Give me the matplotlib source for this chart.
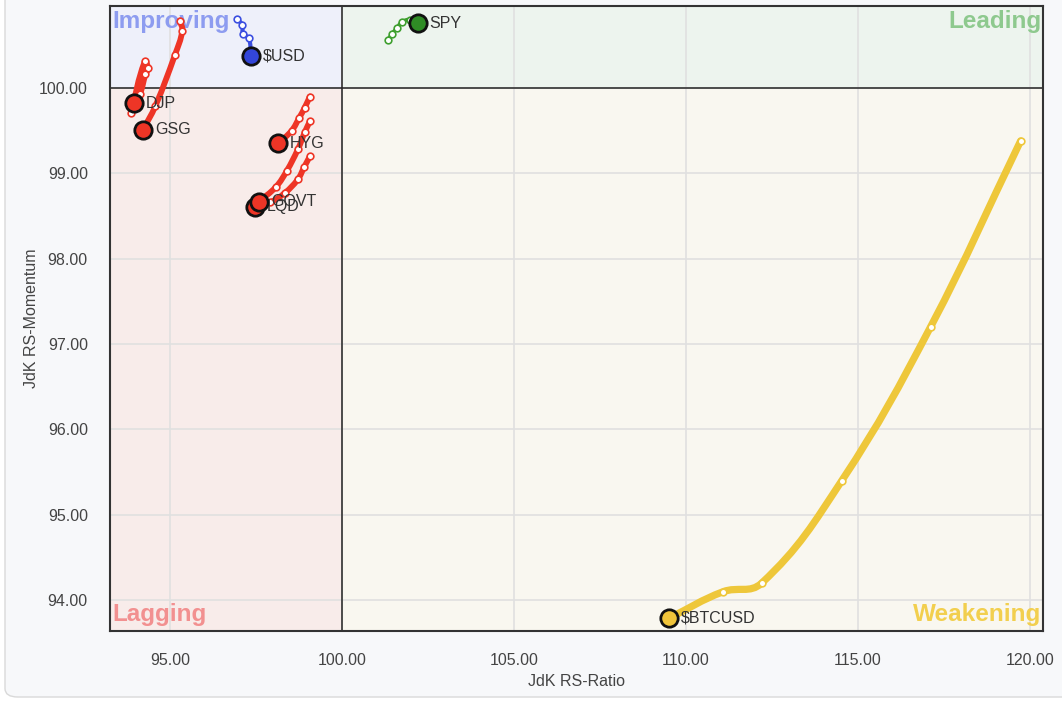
import numpy as np
import matplotlib.pyplot as plt
from matplotlib.path import Path
from matplotlib.patches import PathPatch, Rectangle, FancyBboxPatch

plt.rcParams['font.family'] = ['Liberation Sans', 'DejaVu Sans']

# RRG trails, oldest -> latest (last point = head)
usd_x = [96.94, 97.10, 97.13, 97.30, 97.35]
usd_y = [100.81, 100.74, 100.63, 100.58, 100.37]

spy_x = [101.34, 101.45, 101.60, 101.74, 101.98, 102.21]
spy_y = [100.56, 100.63, 100.70, 100.77, 100.80, 100.76]

djp_x = [93.87, 94.27, 94.36, 94.29, 94.13, 93.95]
djp_y = [99.71, 100.31, 100.23, 100.16, 99.93, 99.82]

gsg_x = [95.29, 95.36, 95.15, 94.58, 94.22]
gsg_y = [100.79, 100.67, 100.39, 99.79, 99.51]

hyg_x = [99.07, 98.92, 98.76, 98.54, 98.15]
hyg_y = [99.90, 99.77, 99.65, 99.50, 99.35]

govt_x = [99.07, 98.92, 98.72, 98.40, 98.08, 97.59]
govt_y = [99.61, 99.48, 99.28, 99.03, 98.84, 98.67]

lqd_x = [99.07, 98.90, 98.72, 98.34, 97.91, 97.47]
lqd_y = [99.20, 99.07, 98.93, 98.77, 98.66, 98.61]

btc_x = [119.73, 117.11, 114.53, 112.20, 111.08, 109.51]
btc_y = [99.38, 97.20, 95.40, 94.20, 94.10, 93.79]

x_ticks = [95, 100, 105, 110, 115, 120]
y_ticks = [94, 95, 96, 97, 98, 99, 100]

# name, x, y, line colour, head colour, line width
series = [
    ('$BTCUSD', btc_x, btc_y, '#eec73a', '#f0c43a', 5.2),
    ('LQD', lqd_x, lqd_y, '#ee3526', '#ee3526', 4.2),
    ('GOVT', govt_x, govt_y, '#ee3526', '#ee3526', 4.2),
    ('HYG', hyg_x, hyg_y, '#ee3526', '#ee3526', 4.2),
    ('GSG', gsg_x, gsg_y, '#ee3526', '#ee3526', 4.2),
    ('DJP', djp_x, djp_y, '#ee3526', '#ee3526', 4.2),
    ('$USD', usd_x, usd_y, '#3b4fe0', '#3346d8', 3.0),
    ('SPY', spy_x, spy_y, '#3f9f2f', '#2f8c25', 2.8),
]

xmin, xmax = 93.26, 120.38
ymin, ymax = 93.64, 100.96
# rough px per unit, only used so the curve smoothing looks even on screen
SX, SY = 34.4, 85.2


def smooth_path(xs, ys):
    # spline like the web chart: control arms 40% of the neighbouring segment
    pts = np.column_stack([np.array(xs) * SX, np.array(ys) * SY])
    n = len(pts)
    tang = []
    for i in range(n):
        a = pts[max(i - 1, 0)]
        b = pts[min(i + 1, n - 1)]
        d = b - a
        tang.append(d / (np.hypot(*d) + 1e-9))
    verts = [pts[0]]
    codes = [Path.MOVETO]
    for i in range(n - 1):
        p1, p2 = pts[i], pts[i + 1]
        L = np.hypot(*(p2 - p1)) * 0.4
        verts += [p1 + tang[i] * L, p2 - tang[i + 1] * L, p2]
        codes += [Path.CURVE4] * 3
    verts = np.array(verts) / [SX, SY]
    return Path(verts, codes)


fig = plt.figure(figsize=(10.62, 7.02), dpi=100)
fig.patch.set_facecolor('white')
card = FancyBboxPatch((5 / 1062, 5 / 702), 1.2, 1.2, boxstyle='round,pad=0,rounding_size=0.012',
                      transform=fig.transFigure, facecolor='#f7f8fa', edgecolor='#d9d9d9',
                      lw=1.0, zorder=-10)
fig.patches.append(card)

ax = fig.add_axes([110 / 1062, 1 - 631 / 702, 933 / 1062, 625 / 702])
ax.set_xlim(xmin, xmax)
ax.set_ylim(ymin, ymax)

# quadrant backgrounds
ax.add_patch(Rectangle((xmin, 100), 100 - xmin, ymax - 100, facecolor='#eef0fa', edgecolor='none', zorder=0))
ax.add_patch(Rectangle((100, 100), xmax - 100, ymax - 100, facecolor='#edf4ee', edgecolor='none', zorder=0))
ax.add_patch(Rectangle((xmin, ymin), 100 - xmin, 100 - ymin, facecolor='#f8ecea', edgecolor='none', zorder=0))
ax.add_patch(Rectangle((100, ymin), xmax - 100, 100 - ymin, facecolor='#f9f7f0', edgecolor='none', zorder=0))

ax.set_axisbelow(True)
ax.grid(True, color='#e0e0e0', lw=1.2)
ax.axvline(100, color='#222222', lw=1.1, zorder=1)
ax.axhline(100, color='#222222', lw=1.1, zorder=1)

qfont = dict(fontsize=17.5, fontweight='bold', zorder=1.5)
ax.text(0.003, 0.975, 'Improving', transform=ax.transAxes, color='#8d9cf0', ha='left', va='center', **qfont)
ax.text(0.998, 0.975, 'Leading', transform=ax.transAxes, color='#8ec98e', ha='right', va='center', **qfont)
ax.text(0.003, 0.026, 'Lagging', transform=ax.transAxes, color='#f29090', ha='left', va='center', **qfont)
ax.text(0.998, 0.026, 'Weakening', transform=ax.transAxes, color='#f2cf4e', ha='right', va='center', **qfont)

z = 3
for name, xs, ys, col, hcol, lw in series:
    ax.add_patch(PathPatch(smooth_path(xs, ys), fill=False, edgecolor=col, lw=lw,
                           capstyle='round', joinstyle='round', zorder=z))
    ax.plot(xs[:-1], ys[:-1], ls='none', marker='o', ms=4.8, mfc='white', mec=col,
            mew=1.2, zorder=z + 0.1)
    ax.plot(xs[-1], ys[-1], ls='none', marker='o', ms=12.5, mfc=hcol, mec='#111111',
            mew=2.0, zorder=z + 0.2)
    ax.annotate(name, (xs[-1], ys[-1]), xytext=(8.5, 0), textcoords='offset points',
                va='center', ha='left', fontsize=11.5, color='#333333', zorder=z + 0.3)
    z += 1

ax.set_xticks(x_ticks)
ax.set_yticks(y_ticks)
ax.set_xticklabels(['%.2f' % v for v in x_ticks])
ax.set_yticklabels(['%.2f' % v for v in y_ticks])
ax.tick_params(length=0, labelsize=11.5, labelcolor='#444444')
ax.tick_params(axis='x', pad=16)
ax.tick_params(axis='y', pad=16)
ax.set_xlabel('JdK RS-Ratio', fontsize=11.5, color='#444444', labelpad=4)
ax.set_ylabel('JdK RS-Momentum', fontsize=11.5, color='#444444', labelpad=0)

for s in ax.spines.values():
    s.set_color('#333333')
    s.set_linewidth(1.5)
    s.set_zorder(20)

plt.savefig('out.png', dpi=100, facecolor=fig.get_facecolor())
plt.close()
